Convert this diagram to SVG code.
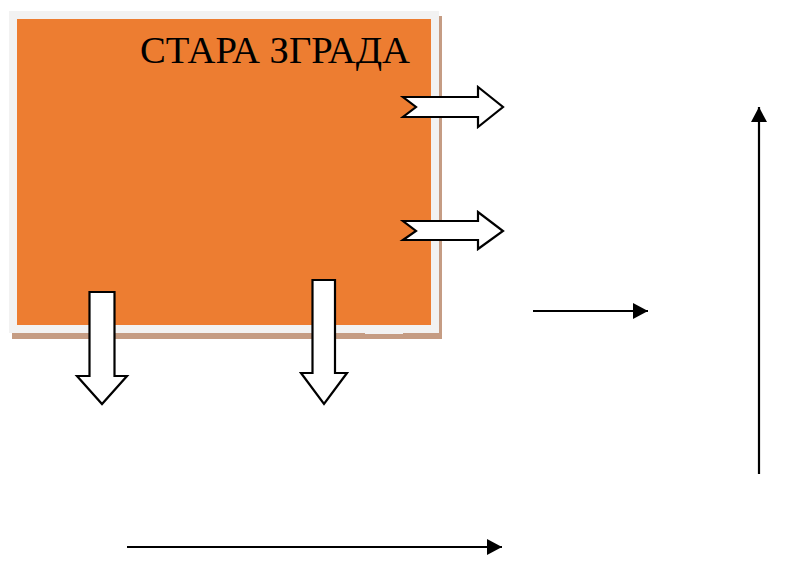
<svg xmlns="http://www.w3.org/2000/svg" width="804" height="564" viewBox="0 0 804 564">
<defs>
<style>
.blk{fill:#fff;stroke:#000;stroke-width:2.2;stroke-linejoin:miter}
.ln{stroke:#000;stroke-width:2.2;fill:none}
.lbl{font-family:"Liberation Serif","Times New Roman",serif;font-size:37px;fill:#000}
</style>
<marker id="ah" markerUnits="userSpaceOnUse" markerWidth="16" markerHeight="16" refX="15" refY="8" orient="auto" viewBox="0 0 16 16">
<path d="M0,0 L15,8 L0,16 z" fill="#000"/>
</marker>
</defs>
<rect width="804" height="564" fill="#fff"/>
<g id="old-building">
<rect x="12" y="16" width="430" height="323" fill="#C59C83"/>
<rect x="9" y="11" width="430" height="322" fill="#F2F2F2"/>
<rect x="17" y="19" width="414" height="306" fill="#ED7D31"/>
<rect x="365" y="325" width="38" height="9" fill="#F2F2F2"/>
<text class="lbl" x="140" y="63" textLength="270" lengthAdjust="spacingAndGlyphs">СТАРА ЗГРАДА</text>
</g>
<g id="connectors">
<path id="block-arrow-right-1" class="blk" d="M403,97 L478,97 L478,87 L503,107 L478,127 L478,117 L403,117 L416,107 Z"/>
<path id="block-arrow-right-2" class="blk" d="M403,221 L478,221 L478,212 L503,231 L478,249 L478,240 L403,240 L416,231 Z"/>
<path id="block-arrow-down-1" class="blk" d="M89.5,292 L114.5,292 L114.5,376 L127,376 L102,404 L77,376 L89.5,376 Z"/>
<path id="block-arrow-down-2" class="blk" d="M312.5,280 L335,280 L335,373 L347,373 L324,404 L301,373 L312.5,373 Z"/>
<line class="ln" x1="533" y1="311" x2="648" y2="311" marker-end="url(#ah)"/>
<line class="ln" x1="759" y1="474" x2="759" y2="107" marker-end="url(#ah)"/>
<line class="ln" x1="127" y1="547" x2="502" y2="547" marker-end="url(#ah)"/>
</g>
</svg>
